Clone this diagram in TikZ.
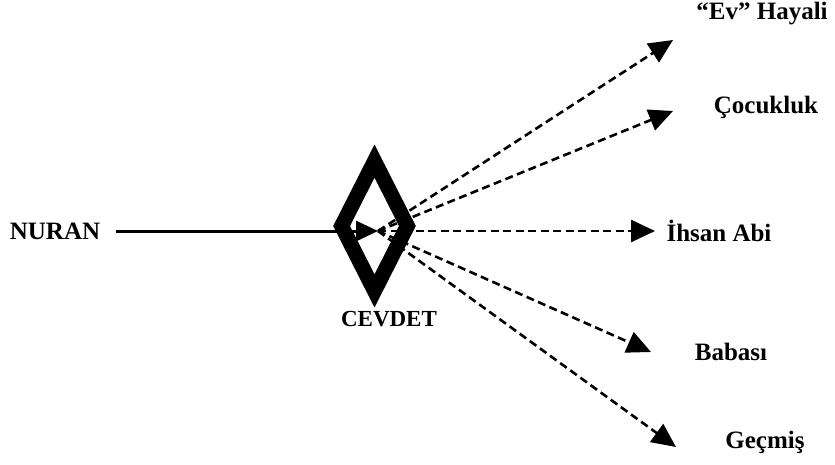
\documentclass[tikz,border=0pt]{standalone}
\usepackage{fontspec}
\setmainfont{Liberation Serif}
\usetikzlibrary{arrows.meta,shapes.geometric}

\begin{document}
\begin{tikzpicture}[x=1pt,y=-1pt,
    concept/.style={font=\fontsize{25}{30}\selectfont\bfseries, inner sep=0pt},
    tip/.style={-{Triangle[length=24pt,width=22pt]}},
    dasharrow/.style={tip, line width=2.6pt, dash pattern=on 8pt off 4.5pt}]
    % Fix the frame
    \useasboundingbox (0,0) rectangle (835,464);

    % Central figure
    \node[diamond, draw, line width=15pt, minimum width=72pt, minimum height=136pt,
          inner sep=0pt] (cevdet) at (374.5,226) {};
    \node[concept, font=\fontsize{23}{27}\selectfont\bfseries] (cevdetname) at (389,319) {CEVDET};
    \coordinate (hub) at (378,231);

    % Left side
    \node[concept] (nuran) at (55,231) {NURAN};
    \draw[line width=3pt, -{Triangle[length=22pt,width=20pt]}, shorten <=16pt]
        (nuran.east) -- (hub);

    % Right side themes
    \node[concept] (ev) at (762,14) {``Ev'' Hayali};
    \node[concept] (cocukluk) at (766,107) {Çocukluk};
    \node[concept] (ihsan) at (719,231) {İhsan Abi};
    \node[concept] (babasi) at (731,352) {Babası};
    \node[concept] (gecmis) at (765,442) {Geçmiş};

    % Arrow tips
    \coordinate (evtip) at (673,40);
    \coordinate (cocukluktip) at (673,111);
    \coordinate (ihsantip) at (655,231);
    \coordinate (babasitip) at (651,352);
    \coordinate (gecmistip) at (676,447);

    % Dashed links
    \draw[dasharrow] (hub) -- (evtip);
    \draw[dasharrow] (hub) -- (cocukluktip);
    \draw[dasharrow] (hub) -- (ihsantip);
    \draw[dasharrow] (hub) -- (babasitip);
    \draw[dasharrow] (hub) -- (gecmistip);
\end{tikzpicture}
\end{document}
